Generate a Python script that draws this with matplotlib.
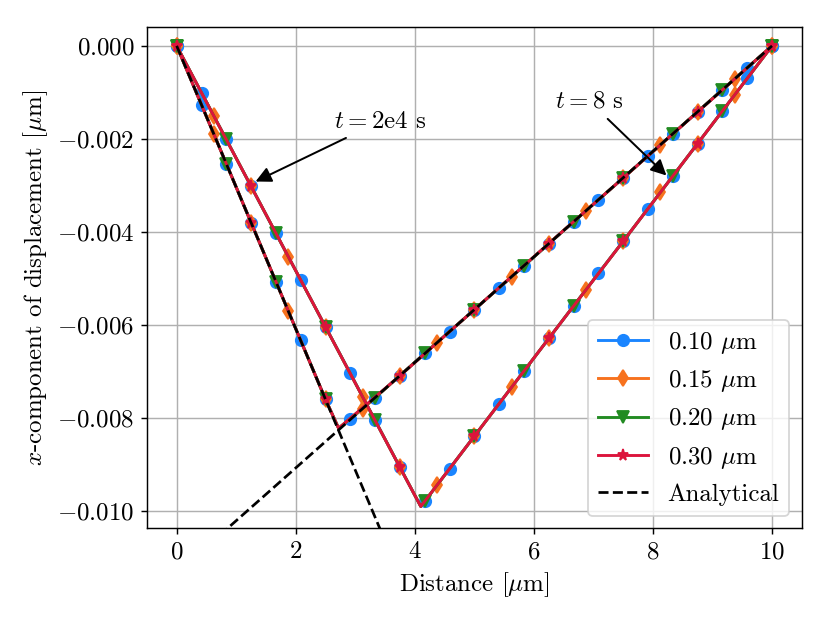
import matplotlib.pyplot as plt
import numpy as np

plt.rcParams['font.family'] = 'serif'
plt.rcParams['font.serif'] = ['cmr10']
plt.rcParams['mathtext.fontset'] = 'cm'
plt.rcParams['axes.formatter.use_mathtext'] = True
plt.rcParams['font.size'] = 13.8

# marker positions [um] and displacement [um] for each mesh size
x_010 = [0.0, 0.417, 0.833, 1.25, 1.667, 2.083, 2.5, 2.917, 3.333, 3.75, 4.167, 4.583, 5.0,
         5.417, 5.833, 6.25, 6.667, 7.083, 7.5, 7.917, 8.333, 8.75, 9.167, 9.583, 10.0]
u8_010 = [0.0, -0.00101, -0.00201, -0.00302, -0.00403, -0.00503, -0.00604, -0.00704, -0.00805,
          -0.00906, -0.00979, -0.00909, -0.00839, -0.00769, -0.00699, -0.00629, -0.00559,
          -0.00489, -0.00420, -0.00350, -0.00280, -0.00210, -0.00140, -0.00070, 0.0]
u2e4_010 = [0.0, -0.00127, -0.00253, -0.00380, -0.00507, -0.00633, -0.00760, -0.00803, -0.00756,
            -0.00709, -0.00661, -0.00614, -0.00567, -0.00520, -0.00473, -0.00425, -0.00378,
            -0.00331, -0.00284, -0.00236, -0.00189, -0.00142, -0.00094, -0.00047, 0.0]

x_015 = [0.0, 0.625, 1.25, 1.875, 2.5, 3.125, 3.75, 4.375, 5.0, 5.625, 6.25, 6.875, 7.5,
         8.125, 8.75, 9.375, 10.0]
u8_015 = [0.0, -0.00151, -0.00302, -0.00453, -0.00604, -0.00755, -0.00906, -0.00944, -0.00839,
          -0.00734, -0.00629, -0.00524, -0.00420, -0.00315, -0.00210, -0.00105, 0.0]
u2e4_015 = [0.0, -0.00190, -0.00380, -0.00570, -0.00760, -0.00780, -0.00709, -0.00638, -0.00567,
            -0.00496, -0.00425, -0.00354, -0.00284, -0.00213, -0.00142, -0.00071, 0.0]

x_020 = [0.0, 0.833, 1.667, 2.5, 3.333, 4.167, 5.0, 5.833, 6.667, 7.5, 8.333, 9.167, 10.0]
u8_020 = [0.0, -0.00201, -0.00403, -0.00604, -0.00805, -0.00979, -0.00839, -0.00699, -0.00559,
          -0.00420, -0.00280, -0.00140, 0.0]
u2e4_020 = [0.0, -0.00253, -0.00507, -0.00760, -0.00756, -0.00661, -0.00567, -0.00473, -0.00378,
            -0.00284, -0.00189, -0.00094, 0.0]

x_030 = [0.0, 1.25, 2.5, 3.75, 5.0, 6.25, 7.5, 8.75, 10.0]
u8_030 = [0.0, -0.00302, -0.00604, -0.00906, -0.00839, -0.00629, -0.00420, -0.00210, 0.0]
u2e4_030 = [0.0, -0.00380, -0.00760, -0.00709, -0.00567, -0.00425, -0.00284, -0.00142, 0.0]

# corner points of the profiles (between markers)
kink_8 = (4.10, -0.0099)
kink_2e4 = (2.72, -0.00822)

# analytical solution, two straight pieces
x_exact = [0.0, 10.0]
u_exact_left = [0.0, -0.0304]
u_exact_right = [-0.01134, 0.0]

labels = [r'0.10 $\mu$m', r'0.15 $\mu$m', r'0.20 $\mu$m', r'0.30 $\mu$m']
colors = ['#1a85ff', '#f7721e', '#228b22', '#dc143c']
markers = ['o', 'd', 'v', '*']


def with_kink(x, u, kink):
    """Insert the corner point into a profile, return markevery without it."""
    x = np.asarray(x)
    u = np.asarray(u)
    i = np.searchsorted(x, kink[0])
    xs = np.insert(x, i, kink[0])
    us = np.insert(u, i, kink[1])
    marks = [j for j in range(len(xs)) if j != i]
    return xs, us, marks


fig, ax = plt.subplots(figsize=(830 / 130, 623 / 130), dpi=130)
fig.subplots_adjust(left=0.177, right=0.966, top=0.957, bottom=0.152)

series = [(x_010, u8_010, u2e4_010), (x_015, u8_015, u2e4_015),
          (x_020, u8_020, u2e4_020), (x_030, u8_030, u2e4_030)]
for (x, u8, u2e4), label, c, m in zip(series, labels, colors, markers):
    xs, us, marks = with_kink(x, u8, kink_8)
    ax.plot(xs, us, color=c, marker=m, markevery=marks, lw=1.6, ms=6.3, label=label)
    xs, us, marks = with_kink(x, u2e4, kink_2e4)
    ax.plot(xs, us, color=c, marker=m, markevery=marks, lw=1.6, ms=6.3)

ax.plot(x_exact, u_exact_left, 'k--', lw=1.5, label='Analytical')
ax.plot(x_exact, u_exact_right, 'k--', lw=1.5)

arrow = dict(arrowstyle='-|>', color='black', lw=1.1, mutation_scale=18)
ax.annotate(r'$t = 2$e4 s', xy=(1.27, -0.00295), xytext=(3.41, -0.00163),
            ha='center', va='center', arrowprops=arrow)
ax.annotate(r'$t = 8$ s', xy=(8.27, -0.00284), xytext=(6.94, -0.00120),
            ha='center', va='center', arrowprops=arrow)

ax.set_xlim(-0.5, 10.5)
ax.set_ylim(-0.01037, 0.00041)
ax.set_yticks([0.0, -0.002, -0.004, -0.006, -0.008, -0.010])
ax.grid(True)
ax.set_xlabel(r'Distance [$\mu$m]')
ax.set_ylabel(r'$x$-component of displacement [$\mu$m]')
ax.legend(loc='lower right')

fig.savefig('out.png', dpi=130)
